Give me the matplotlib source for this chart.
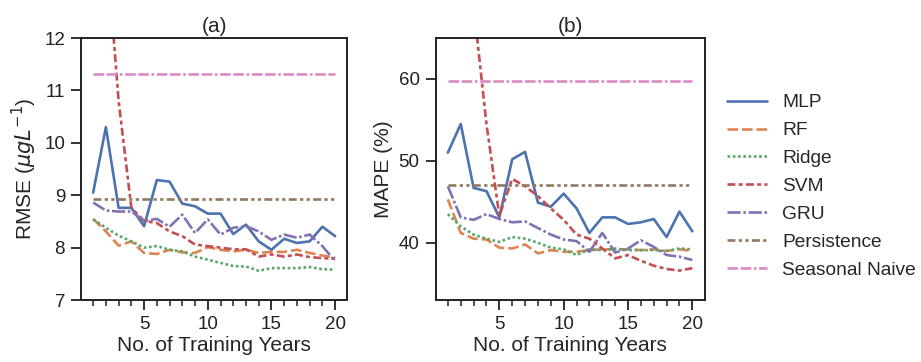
import numpy as np
import matplotlib
matplotlib.use("Agg")
import matplotlib.pyplot as plt
import seaborn as sns

sns.set_theme(style="ticks", context="notebook")
plt.rcParams['font.family'] = ['Liberation Sans', 'DejaVu Sans']

# -------------------------------------------------------------------
# DATA
# -------------------------------------------------------------------

years = list(range(1, 21))

models = ["MLP", "RF", "Ridge", "SVM", "GRU", "Persistence", "Seasonal Naive"]

rmse_mlp = [9.05, 10.30, 8.76, 8.76, 8.41, 9.29, 9.26, 8.84, 8.79, 8.65,
            8.65, 8.26, 8.44, 8.12, 7.96, 8.17, 8.09, 8.12, 8.40, 8.22]
rmse_rf = [8.55, 8.31, 8.04, 8.12, 7.90, 7.88, 7.96, 7.91, 7.90, 8.01,
           7.96, 7.93, 7.96, 7.90, 7.92, 7.92, 7.96, 7.90, 7.85, 7.81]
rmse_ridge = [8.54, 8.38, 8.23, 8.12, 8.00, 8.03, 7.96, 7.93, 7.83, 7.77,
              7.71, 7.65, 7.64, 7.56, 7.61, 7.61, 7.61, 7.63, 7.59, 7.58]
rmse_svm = [17.0, 13.9, 10.8, 8.76, 8.51, 8.47, 8.31, 8.22, 8.06, 8.03,
            8.00, 7.97, 7.97, 7.83, 7.87, 7.83, 7.87, 7.82, 7.80, 7.79]
rmse_gru = [8.86, 8.71, 8.69, 8.69, 8.51, 8.55, 8.40, 8.63, 8.28, 8.54,
            8.25, 8.38, 8.41, 8.31, 8.15, 8.25, 8.19, 8.25, 8.03, 7.74]
rmse_persistence = [8.92] * 20
rmse_seasonal = [11.31] * 20

mape_mlp = [51.0, 54.5, 46.7, 46.3, 43.1, 50.2, 51.1, 44.9, 44.4, 46.0,
            44.2, 41.2, 43.1, 43.1, 42.3, 42.5, 42.9, 40.7, 43.8, 41.4]
mape_rf = [45.3, 41.2, 40.5, 40.4, 39.4, 39.3, 39.8, 38.7, 39.1, 38.9,
           38.9, 39.1, 39.2, 39.2, 39.2, 39.1, 39.2, 39.0, 39.2, 39.0]
mape_ridge = [43.5, 42.0, 41.0, 40.5, 40.1, 40.7, 40.5, 40.0, 39.4, 39.2,
              38.5, 39.2, 39.1, 39.3, 39.1, 39.1, 39.1, 39.0, 39.3, 39.2]
mape_svm = [100.0, 85.0, 69.0, 54.5, 43.3, 47.8, 46.9, 45.7, 44.2, 42.8,
            41.0, 40.5, 39.3, 38.1, 38.5, 37.8, 37.2, 36.8, 36.6, 36.9]
mape_gru = [46.9, 43.1, 42.8, 43.5, 42.9, 42.5, 42.6, 41.8, 41.0, 40.4,
            40.2, 38.9, 41.2, 38.8, 39.3, 40.3, 39.5, 38.5, 38.3, 37.9]
mape_persistence = [47.1] * 20
mape_seasonal = [59.8] * 20

rmse = [rmse_mlp, rmse_rf, rmse_ridge, rmse_svm, rmse_gru,
        rmse_persistence, rmse_seasonal]
mape = [mape_mlp, mape_rf, mape_ridge, mape_svm, mape_gru,
        mape_persistence, mape_seasonal]

# -------------------------------------------------------------------
# STYLE
# -------------------------------------------------------------------

colors = sns.color_palette("deep", 7)
dashes = [
    (None, None),
    (4, 1.5),
    (1, 1),
    (3, 1.25, 1.5, 1.25),
    (5, 1, 1, 1),
    (3, 1.25, 1.25, 1.25, 1.25, 1.25),
    (4, 1, 4, 1, 1, 1),
]

# -------------------------------------------------------------------
# PLOT
# -------------------------------------------------------------------

fig = plt.figure(figsize=(9.21, 3.62), dpi=100)
ax1 = fig.add_axes([0.088, 0.171, 0.289, 0.724])
ax2 = fig.add_axes([0.473, 0.171, 0.292, 0.724])

for ax, data in [(ax1, rmse), (ax2, mape)]:
    for name, vals, c, d in zip(models, data, colors, dashes):
        line, = ax.plot(years, vals, color=c, lw=1.9, label=name)
        if d[0] is not None:
            line.set_dashes(d)
    ax.set_xticks([5, 10, 15, 20])
    ax.set_xticks(years, minor=True)
    ax.tick_params(axis='both', which='major', labelsize=13.5, length=7.5,
                   width=1.3, pad=4, colors='#222222')
    ax.tick_params(axis='x', which='minor', length=4.3, width=1.1,
                   colors='#222222')
    ax.set_xlabel("No. of Training Years", fontsize=15, labelpad=2)
    for s in ax.spines.values():
        s.set_linewidth(1.4)
        s.set_color('#222222')

ax1.set_ylim(7, 12)
ax1.set_yticks([7, 8, 9, 10, 11, 12])
ax1.set_ylabel(r"RMSE ($\mu g L^{-1}$)", fontsize=15)
ax1.set_title("(a)", fontsize=15, pad=4)

ax2.set_ylim(33, 65)
ax2.set_yticks([40, 50, 60])
ax2.set_ylabel("MAPE (%)", fontsize=15)
ax2.set_title("(b)", fontsize=15, pad=4)

handles, labels = ax2.get_legend_handles_labels()
fig.legend(handles, labels, loc='center left', bbox_to_anchor=(0.789, 0.485),
           bbox_transform=fig.transFigure, frameon=False, fontsize=13.8,
           handlelength=2.1, handletextpad=0.8, labelspacing=0.55,
           borderpad=0, borderaxespad=0)

fig.savefig("out.png", dpi=100)
